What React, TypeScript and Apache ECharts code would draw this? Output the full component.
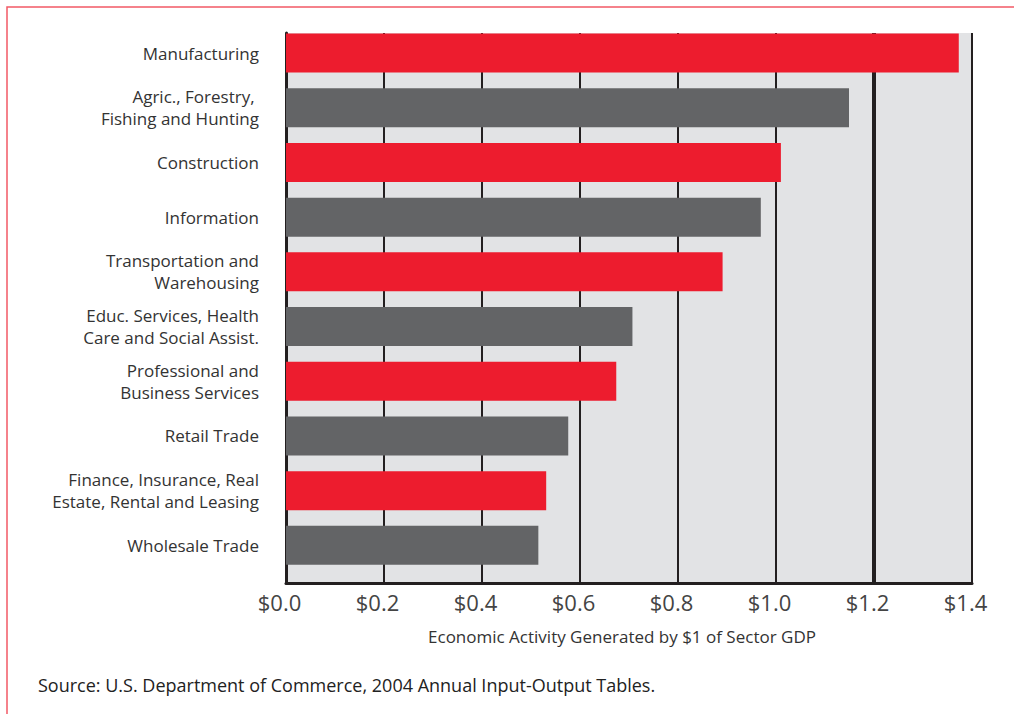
import React, { useEffect, useRef } from "react";
import * as echarts from "echarts";

const categories = [
  "Manufacturing",
  "Agric., Forestry, \nFishing and Hunting",
  "Construction",
  "Information",
  "Transportation and\nWarehousing",
  "Educ. Services, Health\nCare and Social Assist.",
  "Professional and\nBusiness Services",
  "Retail Trade",
  "Finance, Insurance, Real\nEstate, Rental and Leasing",
  "Wholesale Trade",
];
const values = [1.373, 1.149, 1.01, 0.969, 0.891, 0.707, 0.674, 0.576, 0.531, 0.515];
const xTicks = [0, 0.2, 0.4, 0.6, 0.8, 1.0, 1.2, 1.4];
const xTitle = "Economic Activity Generated by $1 of Sector GDP";
const sourceText = "Source: U.S. Department of Commerce, 2004 Annual Input-Output Tables.";

const RED = "#ed1c2e";
const GRAY = "#636466";
const LINE = "#231f20";
const FONT = "'Open Sans', 'Noto Sans', sans-serif";

export default function App() {
  const ref = useRef<HTMLDivElement>(null);
  useEffect(() => {
    if (!ref.current) return;
    const chart = echarts.init(ref.current, undefined, { renderer: "svg" });
    const left = 286;
    const right = 1014 - 972;
    chart.setOption({
      animation: false,
      backgroundColor: "#ffffff",
      textStyle: { fontFamily: FONT },
      grid: [
        {
          left,
          right,
          top: 33,
          bottom: 714 - 583,
          show: true,
          backgroundColor: "#e2e3e5",
          borderWidth: 0,
        },
        { left, right, top: 25.7, height: 547 },
      ],
      xAxis: [
        {
          gridIndex: 0,
          type: "value",
          min: xTicks[0],
          max: xTicks[xTicks.length - 1],
          interval: 0.2,
          axisLine: { show: true, onZero: false, lineStyle: { color: LINE, width: 3 } },
          axisTick: { show: false },
          splitLine: { show: true, lineStyle: { color: LINE, width: 2 } },
          axisLabel: {
            margin: 8,
            fontSize: 22,
            color: "#444",
            fontFamily: FONT,
            padding: [0, 13, 0, 0],
            formatter: (v: number) => "$" + v.toFixed(1),
          },
        },
        { gridIndex: 1, type: "value", min: 0, max: 1.4, show: false },
      ],
      yAxis: [
        {
          gridIndex: 0,
          type: "value",
          min: 0,
          max: 1,
          axisLine: { show: true, lineStyle: { color: LINE, width: 3 } },
          axisTick: { show: false },
          axisLabel: { show: false },
          splitLine: { show: false },
        },
        {
          gridIndex: 1,
          type: "category",
          inverse: true,
          data: categories,
          axisLine: { show: false },
          axisTick: { show: false },
          splitLine: { show: false },
          axisLabel: {
            margin: 27,
            fontSize: 17,
            lineHeight: 22,
            color: "#333",
            fontFamily: FONT,
            align: "right",
          },
        },
      ],
      series: [
        {
          type: "line",
          xAxisIndex: 0,
          yAxisIndex: 0,
          data: [],
          z: 1,
          markLine: {
            z: 1,
            silent: true,
            symbol: "none",
            label: { show: false },
            lineStyle: { color: LINE, width: 4, type: "solid" },
            data: [{ xAxis: 1.2 }],
          },
        },
        {
          type: "bar",
          xAxisIndex: 1,
          yAxisIndex: 1,
          z: 3,
          barWidth: 39,
          data: values.map((v, i) => ({
            value: v,
            itemStyle: { color: i % 2 === 0 ? RED : GRAY },
          })),
        },
      ],
      graphic: [
        {
          type: "rect",
          shape: { x: 7, y: 7, width: 1030, height: 730 },
          style: { fill: "none", stroke: "#f25a66", lineWidth: 1.5 },
          silent: true,
        },
        {
          type: "text",
          x: 622,
          y: 636,
          style: {
            text: xTitle,
            fontSize: 17,
            fill: "#333",
            fontFamily: FONT,
            align: "center",
            verticalAlign: "middle",
          },
        },
        {
          type: "text",
          x: 38,
          y: 685,
          style: {
            text: sourceText,
            fontSize: 18,
            fill: "#222",
            fontFamily: FONT,
            align: "left",
            verticalAlign: "middle",
          },
        },
      ],
    });
    return () => chart.dispose();
  }, []);
  return (
    <div
      ref={ref}
      style={{ position: "absolute", left: 0, top: 0, width: 1014, height: 714 }}
    />
  );
}
